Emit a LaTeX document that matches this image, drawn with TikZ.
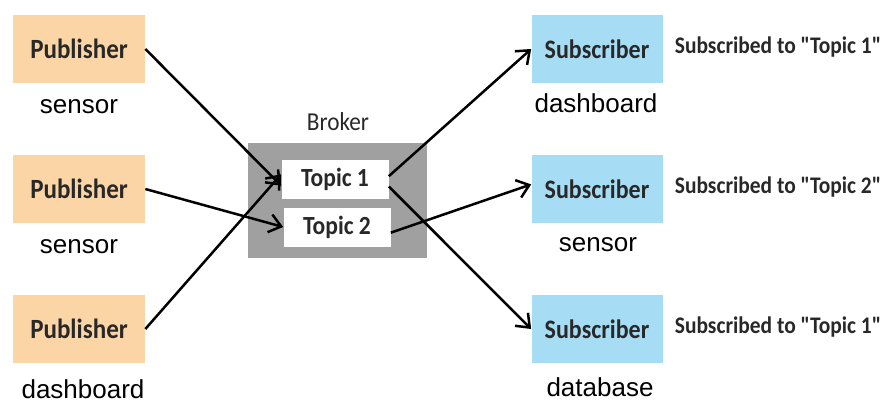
\documentclass[tikz,border=0pt]{standalone}
\usepackage{fontspec}
\setmainfont{Liberation Sans}
\newfontfamily\calibri[FakeStretch=0.9]{Carlito}
\usetikzlibrary{arrows.meta}

\definecolor{pubfill}{RGB}{251,213,165}
\definecolor{subfill}{RGB}{166,221,245}
\definecolor{brokerfill}{RGB}{160,160,160}
\definecolor{boxtext}{RGB}{40,40,40}

\begin{document}
\begin{tikzpicture}[x=0.6pt,y=-0.6pt,
  pub/.style={fill=pubfill,minimum width=79.2pt,minimum height=40.8pt,
    font=\calibri\bfseries\fontsize{16.7}{18}\selectfont,text=boxtext},
  sub/.style={fill=subfill,minimum width=78.6pt,minimum height=40.8pt,
    font=\calibri\bfseries\fontsize{16}{18}\selectfont,text=boxtext},
  topic/.style={fill=white,minimum width=64.2pt,minimum height=23.4pt,
    font=\calibri\bfseries\fontsize{15.7}{17}\selectfont,text=boxtext},
  who/.style={font=\fontsize{15.6}{17}\selectfont},
  note/.style={anchor=west,font=\calibri\bfseries\fontsize{14.3}{16}\selectfont,text=boxtext},
  flow/.style={line width=1.5pt,-{Straight Barb[length=7pt,width=11pt,line width=1.5pt]}}]

\useasboundingbox (0,0) rectangle (882,402);

% broker with its two topics
\node[fill=brokerfill,minimum width=107.4pt,minimum height=69pt] (broker) at (337.5,200.5) {};
\node[font=\calibri\fontsize{15.5}{17}\selectfont,text=boxtext] (brokerlbl) at (338,122) {Broker};
\node[topic] (t1) at (335,179) {Topic 1};
\node[topic] (t2) at (337,227) {Topic 2};

% publishers
\node[pub] (pub1) at (79,49) {Publisher};
\node[pub] (pub2) at (79,189) {Publisher};
\node[pub] (pub3) at (79,329) {Publisher};
\node[who] (pub1lbl) at (79,107) {sensor};
\node[who] (pub2lbl) at (79,247) {sensor};
\node[who] (pub3lbl) at (83,389) {dashboard};

% subscribers
\node[sub] (sub1) at (597,49) {Subscriber};
\node[sub] (sub2) at (597,189) {Subscriber};
\node[sub] (sub3) at (597,329) {Subscriber};
\node[who] (sub1lbl) at (596,103) {dashboard};
\node[who] (sub2lbl) at (598,245) {sensor};
\node[who] (sub3lbl) at (600,387) {database};
\node[note] (sub1note) at (669,47) {Subscribed to "Topic 1"};
\node[note] (sub2note) at (669,187) {Subscribed to "Topic 2"};
\node[note] (sub3note) at (669,327) {Subscribed to "Topic 1"};

% publish
\draw[flow] (pub1.east) -- (t1.187);
\draw[flow] (pub2.east) -- (t2.west);
\draw[flow] (pub3.east) -- (t1.175);

% deliver
\draw[flow] (t1.3) -- (sub1.west);
\draw[flow] (t1.-8) -- (sub3.west);
\draw[flow] (t2.-6) -- (sub2.176);

\end{tikzpicture}
\end{document}
